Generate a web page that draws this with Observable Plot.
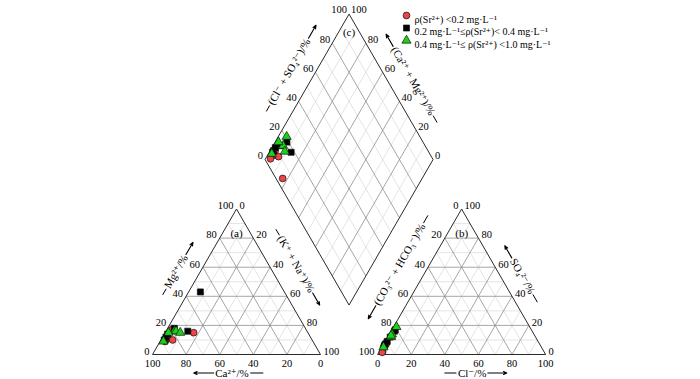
<!DOCTYPE html>
<html><head><meta charset="utf-8">
<script src="https://cdn.jsdelivr.net/npm/d3@7"></script>
<script src="https://cdn.jsdelivr.net/npm/@observablehq/plot@0.6"></script>
<style>body{margin:0;background:#fff} #chart{width:700px;height:379px}</style>
</head><body><div id="chart"></div>
<script>
// ---- data (percent of meq) ----
const sampleGroup = [0,0,0,0,0,0, 1,1,1,1,1,1, 2,2,2,2,2];
const caPct  = [68,80,85,87,83,88, 50,71,78,84,86,88, 79,78,83,76,89];
const mgPct  = [15,17,11,10,10, 9, 43,16,18,14,12,10, 16,16,15,15, 9];
const naKPct = [17, 3, 4, 3, 7, 3,  7,13, 4, 2, 2, 2,  5, 6, 2, 9, 2];
const clPct  = [2, 1, 1, 1, 1.5, 2,  2, 2, 1.5, 1, 1, 1.2,  1.7, 1.5, 2, 1.5, 1];
const so4Pct = [2, 8, 6, 5, 7.5, 1.5, 17, 16, 12, 7, 6, 9,  19, 14, 12, 13, 5];
const groupLabels = ["ρ(Sr²⁺) <0.2 mg·L⁻¹", "0.2 mg·L⁻¹≤ρ(Sr²⁺)< 0.4 mg·L⁻¹", "0.4 mg·L⁻¹≤ ρ(Sr²⁺) <1.0 mg·L⁻¹"];
const groupSymbols = ["circle","square","triangle"];
const groupColors = ["#ee4348","#000000","#19d219"];
const tickValues = [0,20,40,60,80,100];
const panelLabels = ["(a)","(b)","(c)"];
const titleTexts = ["Ca²⁺/%","Cl⁻/%","Mg²⁺/%","(K⁺ + Na⁺)/%","(CO₃²⁻ + HCO₃⁻)/%","SO₄²⁻/%","(Cl⁻ + SO₄²⁻)/%","(Ca²⁺ + Mg²⁺)/%"];

// ---- Piper geometry (units: triangle side = 100) ----
const H = Math.sqrt(3)/2;
const GAP = 34;
const OXB = 100 + GAP;
const B0 = [100 + GAP/2, GAP*H];
const S = 1.68; // px per unit (from scale ranges)
const triA = (ca, mg, na) => [na + mg/2, mg*H];
const triB = (cl, so4) => [OXB + cl + so4/2, so4*H];
const dia = (c, a) => [B0[0] + (a - c)/2, B0[1] + (a + c)*H];

const seg = (p, q, major) => ({x1:p[0], y1:p[1], x2:q[0], y2:q[1], major});
const grid = [];
for (let k = 10; k <= 90; k += 10) {
  const m = k % 20 === 0;
  grid.push(seg(triA(100-k,k,0), triA(0,k,100-k), m));
  grid.push(seg(triA(100-k,0,k), triA(0,100-k,k), m));
  grid.push(seg(triA(k,100-k,0), triA(k,0,100-k), m));
  grid.push(seg(triB(0,k), triB(100-k,k), m));
  grid.push(seg(triB(k,0), triB(k,100-k), m));
  grid.push(seg(triB(100-k,0), triB(0,100-k), m));
  grid.push(seg(dia(k,0), dia(k,100), m));
  grid.push(seg(dia(0,k), dia(100,k), m));
}
const outline = [
  seg(triA(100,0,0), triA(0,0,100)), seg(triA(0,0,100), triA(0,100,0)), seg(triA(0,100,0), triA(100,0,0)),
  seg(triB(0,0), triB(100,0)), seg(triB(100,0), triB(0,100)), seg(triB(0,100), triB(0,0)),
  seg(dia(0,0), dia(100,0)), seg(dia(100,0), dia(100,100)), seg(dia(100,100), dia(0,100)), seg(dia(0,100), dia(0,0))
];

// tick labels
const tk = (fn, anchor, dx, dy) => ({rows: tickValues.map(v => { const p = fn(v); return {x:p[0], y:p[1], t:String(v)}; }), anchor, dx, dy});
const tickGroups = [
  tk(v => triA(v,0,100-v), "middle", 0, 9),
  tk(v => triA(100-v,v,0), "end", -3, -3),
  tk(v => triA(0,100-v,v), "start", 3, -3),
  tk(v => triB(v,0), "middle", 0, 9),
  tk(v => triB(0,100-v), "end", -3, -3),
  tk(v => triB(100-v,v), "start", 3, -3),
  tk(v => dia(100,v), "end", -2, -4),
  tk(v => dia(v,100), "start", 2, -4)
];

// axis titles
const TFS = 11;
const ctx = document.createElement("canvas").getContext("2d");
ctx.font = TFS + "px 'Liberation Serif', 'DejaVu Serif', serif";
const tw = s => ctx.measureText(s).width;
const up = [0.5, H], down = [0.5, -H];
const nL = [-H, 0.5], nR = [H, 0.5];
const titleSpecs = [
  {mid: triA(50,0,50), dir:[1,0], normal:[0,-1], off:18.5, shift:-8, arrowAt:"start", before:20, after:13},
  {mid: triB(50,0),    dir:[1,0], normal:[0,-1], off:18.5, shift:14, arrowAt:"end",   before:12, after:19},
  {mid: triA(50,50,0), dir:up,   normal:nL, off:21, shift:3,  arrowAt:"end",   before:7,  after:14},
  {mid: triA(0,50,50), dir:down, normal:nR, off:24, shift:-3, arrowAt:"end",   before:7,  after:14},
  {mid: triB(0,50),    dir:up,   normal:nL, off:26, shift:2,  arrowAt:"start", before:15, after:9},
  {mid: triB(50,50),   dir:down, normal:nR, off:19, shift:2,  arrowAt:"start", before:14, after:9},
  {mid: dia(100,50),   dir:up,   normal:nL, off:23, shift:8,  arrowAt:"end",   before:7,  after:15},
  {mid: dia(50,100),   dir:down, normal:nR, off:22, shift:3,  arrowAt:"start", before:14, after:8}
];
const titleRows = [], plainSegs = [], arrowSegs = [];
titleSpecs.forEach((t, i) => {
  const text = titleTexts[i];
  const w = tw(text), g = 1.5;
  const [dx, dy] = t.dir, [nx, ny] = t.normal;
  const gc = [t.mid[0] + (nx*t.off + dx*t.shift)/S, t.mid[1] + (ny*t.off + dy*t.shift)/S];
  const sh = (t.before - t.after)/2/S;
  const tc = [gc[0] + dx*sh, gc[1] + dy*sh];
  titleRows.push({x: tc[0], y: tc[1], t: text, r: -Math.atan2(dy, dx)*180/Math.PI});
  const a0 = (w/2 + g)/S;
  const bs = {x1: tc[0]-dx*a0, y1: tc[1]-dy*a0, x2: tc[0]-dx*(a0+t.before/S), y2: tc[1]-dy*(a0+t.before/S)};
  const as = {x1: tc[0]+dx*a0, y1: tc[1]+dy*a0, x2: tc[0]+dx*(a0+t.after/S), y2: tc[1]+dy*(a0+t.after/S)};
  if (t.arrowAt === "start") { arrowSegs.push(bs); plainSegs.push(as); }
  else { arrowSegs.push(as); plainSegs.push(bs); }
});

// panel labels
const panelRows = [
  {p: [50, 100*H*0.83], t: panelLabels[0]},
  {p: [OXB+50, 100*H*0.83], t: panelLabels[1]},
  {p: [B0[0], B0[1] + 200*H - 11], t: panelLabels[2]}
].map(d => ({x: d.p[0], y: d.p[1], t: d.t}));

// points
const points = [];
sampleGroup.forEach((g, i) => {
  const pa = triA(caPct[i], mgPct[i], naKPct[i]);
  const pb = triB(clPct[i], so4Pct[i]);
  const pd = dia(caPct[i] + mgPct[i], clPct[i] + so4Pct[i]);
  [pa, pb, pd].forEach(p => points.push({x: p[0], y: p[1], g}));
});

const marks = [
  Plot.link(grid.filter(d => !d.major), {x1:"x1", y1:"y1", x2:"x2", y2:"y2", stroke:"#d2d2d2", strokeWidth:0.6}),
  Plot.link(grid.filter(d => d.major), {x1:"x1", y1:"y1", x2:"x2", y2:"y2", stroke:"#888", strokeWidth:0.75}),
  Plot.link(outline, {x1:"x1", y1:"y1", x2:"x2", y2:"y2", stroke:"#2a2a2a", strokeWidth:1})
];
tickGroups.forEach(tg => marks.push(Plot.text(tg.rows, {x:"x", y:"y", text:"t", textAnchor: tg.anchor, dx: tg.dx, dy: tg.dy, fontSize: 10.5, fill:"#000"})));
marks.push(Plot.text(titleRows, {x:"x", y:"y", text:"t", rotate:"r", fontSize:TFS, fill:"#000"}));
marks.push(Plot.link(plainSegs, {x1:"x1", y1:"y1", x2:"x2", y2:"y2", stroke:"#000", strokeWidth:1}));
marks.push(Plot.arrow(arrowSegs, {x1:"x1", y1:"y1", x2:"x2", y2:"y2", stroke:"#000", strokeWidth:1.1, headLength:5, headAngle:45}));
marks.push(Plot.text(panelRows, {x:"x", y:"y", text:"t", fontSize:11, fill:"#000"}));
marks.push(Plot.dot(points, {x:"x", y:"y", symbol:"g", fill:"g", stroke:"#111", strokeWidth:0.7, r:3.4}));
// legend
groupLabels.forEach((lab, i) => {
  marks.push(Plot.dot([i], {frameAnchor:"top-left", dx:406, dy:15 + i*12.5, symbol: d => d, fill: d => d, stroke:"#111", strokeWidth:0.7, r:3.4}));
  marks.push(Plot.text([lab], {frameAnchor:"top-left", dx:414, dy:15 + i*12.5, text: d => d, textAnchor:"start", fontSize:10, fill:"#000"}));
});

const chart = Plot.plot({
  width: 700, height: 379, margin: 0,
  x: {domain:[0,100], range:[152, 320], axis:null},
  y: {domain:[0,100], range:[354, 186], axis:null},
  symbol: {domain:[0,1,2], range: groupSymbols},
  color: {type:"ordinal", domain:[0,1,2], range: groupColors},
  style: {fontFamily:"'Liberation Serif', 'DejaVu Serif', serif", fontSize:"10px", background:"#fff", overflow:"visible"},
  marks
});
document.getElementById("chart").appendChild(chart);
</script>
</body></html>
